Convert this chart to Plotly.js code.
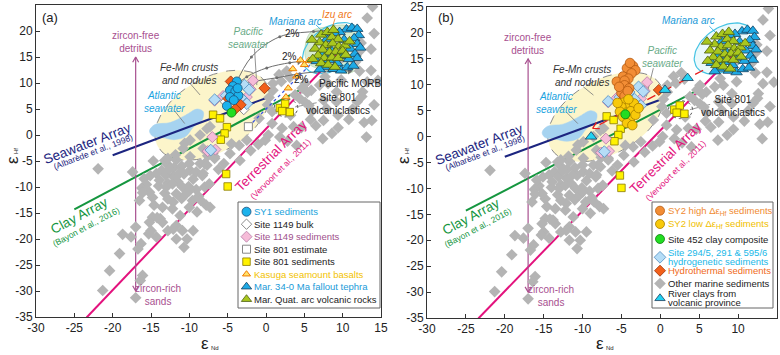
<!DOCTYPE html>
<html><head><meta charset="utf-8">
<script src="https://cdn.plot.ly/plotly-3.0.1.min.js"></script>
<style>html,body{margin:0;padding:0;background:#fff}</style>
</head><body><div id="chart" style="width:780px;height:355px"></div>
<script>
// ================= DATA (eNd, eHf) =================
const xTicks = [-30,-25,-20,-15,-10,-5,0,5,10,15];
const yTicks = [-35,-30,-25,-20,-15,-10,-5,0,5,10,15,20,25];

const otherMarine = [
 [13.9,24.7],[13.2,22.5],[14.1,19.5],[12.4,17.7],[13.7,16.5],[12.2,16.1],[11.7,14.1],[9.4,14.1],[13.7,12.4],[12.2,12.3],
 [14.6,10.5],[13.2,10.2],[9.8,10.6],[8.1,9.9],[7.7,11.2],[7.0,9.6],[12.6,8.3],[9.2,8.3],[5.9,8.6],[5.4,8.2],
 [4.7,9.0],[5.1,9.9],[3.8,7.7],[4.4,7.0],[5.1,6.3],[5.6,5.7],[7.5,6.7],[9.2,6.4],[11.9,6.4],[14.1,5.8],
 [12.5,7.4],[11.3,5.0],[7.9,5.1],[6.0,4.6],[9.4,3.8],[13.8,2.8],[12.8,2.4],[7.5,2.8],[3.2,3.8],[0.8,4.5],
 [0.2,5.8],[0.4,7.2],[0.9,8.6],[0.9,9.9],[2.0,10.3],[1.7,11.6],[2.7,12.3],[3.1,11.1],[-0.9,3.2],[0.8,2.2],
 [2.1,1.3],[3.6,1.6],[4.6,1.4],[0.3,0.0],[1.8,-0.4],[-0.1,-1.0],[-1.0,-1.8],[4.0,-2.0],[7.4,-0.7],[8.6,0.3],
 [9.4,1.4],[13.1,-0.4],[5.8,3.0],[6.5,1.8],[2.8,-1.2],[10.8,3.0],
 [-3.4,-4.9],[-4.7,-3.6],[-2.5,-1.0],[-3.5,-2.0],[-4.5,-1.7],[-6.7,-4.2],[-8.2,-2.6],[-7.7,1.2],[-8.6,0.0],[-9.9,-1.0],
 [-10.8,-2.6],[-9.9,-4.2],[-11.7,-4.8],[-13.2,-4.9],[-14.7,-5.0],[-13.6,-6.8],[-15.1,-7.8],[-9.9,-6.8],[-8.6,-5.5],[-7.3,1.6],
 [-10.6,-1.6],[-11.8,-3.8],[-12.9,-5.6],[-14.3,-7.4],[-21.9,-6.5],[-2.0,-3.0],[-5.5,-5.5],[-6.2,-6.6],[-7.6,-4.0],
 [-12.0,-6.3],[-11.0,-6.0],[-10.7,-7.5],[-12.1,-8.0],[-13.1,-7.7],[-11.5,-9.0],[-9.5,-8.5],[-10.1,-9.9],[-12.8,-9.3],[-14.0,-9.8],
 [-13.2,-11.2],[-11.0,-12.2],[-9.1,-10.5],[-8.8,-11.8],[-12.1,-12.9],[-14.8,-12.0],[-15.6,-9.5],[-16.2,-10.2],[-12.8,-4.5],[-12.6,-6.6],
 [-11.3,-7.4],[-10.0,-5.5],[-9.1,-7.1],[-8.3,-7.8],[-8.0,-5.5],[-13.0,-10.0],[-12.2,-9.4],[-10.9,-10.0],[-11.7,-11.3],[-12.8,-12.3],
 [-10.4,-11.3],[-9.6,-12.6],[-15.2,-11.0],[-16.1,-11.1],[-16.5,-12.6],[-14.6,-13.5],[-13.5,-13.9],[-12.2,-14.2],[-10.0,-13.9],[-8.5,-12.6],
 [-8.0,-10.0],[-7.4,-9.4],[-7.3,-13.9],[-8.2,-7.4],[-7.7,-5.8],[-6.7,-4.5],[-10.0,-10.7],[-17.4,-7.1],[-15.9,-8.4],[-13.9,-8.7],
 [-14.8,-15.8],[-15.2,-16.8],[-14.2,-15.9],[-13.5,-16.8],[-15.0,-18.4],[-14.3,-19.6],[-12.8,-18.4],[-11.7,-17.4],[-10.9,-18.4],[-11.7,-20.0],
 [-10.7,-21.6],[-10.3,-20.0],[-9.5,-18.4],[-12.1,-18.1],[-13.8,-16.1],[-15.3,-19.0],[-18.7,-19.1],[-17.6,-19.6],[-17.0,-17.7],[-16.7,-21.9],
 [-16.3,-20.9],[-19.1,-22.8],[-20.4,-26.1],[-21.3,-29.9],[-16.1,-27.0],[-16.4,-28.0],[-17.0,-31.3],[-7.8,-13.5],[-11.2,-15.5],[-9.0,-14.8]
];
const sy1Sed = [[-3.8,10.3],[-4.3,9.4],[-4.7,8.6],[-4.0,8.4],[-3.6,7.6],[-4.7,7.3],[-4.2,6.7],[-5.1,5.6],[-3.7,9.0]];
const site1149Bulk = [[-5.3,6.4],[-3.0,6.9],[-2.9,4.9]];
const site1149Sed = [[-1.7,10.5],[-6.7,6.6],[-5.6,7.5],[-2.5,7.3],[-3.0,6.2],[-7.0,-0.4],[-7.6,-3.1],[-6.6,-2.8],[-2.0,8.8]];
const site801Est = [[-2.3,1.6]];
const site801Sed = [[-6.9,3.9],[-6.0,3.2],[-5.1,1.5],[-5.4,0.3],[-5.9,-0.9],[-5.2,-7.5],[-5.0,-9.9],[1.8,5.2],[2.5,6.0],[3.1,4.4],[2.1,4.6]];
const kasuga = [[4.5,14.4],[5.6,14.3],[3.5,12.7],[4.0,11.3],[2.9,9.0],[2.6,7.3],[5.0,13.5]];
const marTephra = [[10.5,20.3],[11.2,20.6],[11.9,20.4],[9.6,19.8],[12.1,19.2],[11.5,18.6],[10.2,18.3],[11.9,17.5],[12.3,16.8],[11.0,16.6],
 [11.6,15.6],[11.9,14.8],[7.4,15.5],[8.2,14.4],[9.3,13.8],[7.6,13.1],[8.8,12.7],[9.8,12.4],[10.6,13.0],[6.6,14.2],
 [7.0,12.6],[8.4,16.5],[9.9,15.2],[10.8,14.6],[7.9,18.4],[8.9,19.6],[11.4,13.3]];
const marQuat = [[7.2,19.3],[8.0,19.8],[8.6,18.8],[9.4,18.4],[7.0,17.8],[7.8,17.3],[8.7,17.6],[9.5,17.0],[10.3,17.2],[6.4,16.6],
 [7.4,16.4],[8.3,15.9],[9.1,16.0],[10.0,16.2],[6.8,15.3],[7.6,14.8],[8.6,14.9],[9.4,14.8],[10.4,15.4],[6.1,14.6],
 [7.2,13.8],[8.1,13.5],[9.0,13.1],[8.8,20.2],[10.9,18.0],[6.0,18.3]];
const sy2High = [[-3.5,13.6],[-4.3,13.2],[-3.9,14.2],[-3.2,12.8],[-3.7,12.2],[-4.8,11.6],[-4.1,11.2],[-5.6,10.6],[-4.6,10.8],[-4.6,9.9],
 [-4.0,9.3],[-5.0,8.4],[-4.6,7.8],[-4.2,8.8],[-5.3,9.6]];
const sy2Low = [[-4.6,6.6],[-4.0,5.9],[-5.0,5.7],[-3.4,6.4],[-4.4,4.6],[-3.8,4.9],[-5.2,4.8],[-3.9,3.3],[-4.8,3.8],[-3.2,4.2],
 [-4.3,2.6],[-3.6,2.2],[-5.5,6.5],[-2.8,5.5],[-4.1,7.2]];
const site452 = [[-4.5,4.3]];
const hydrogenetic = [[-2.8,9.6],[-2.2,8.7],[-3.3,7.2],[-5.2,7.6],[-6.7,6.8],[-7.2,-2.9],[-4.0,8.6],[-2.5,6.0]];
const hydrothermal = [[-0.2,9.0],[-4.6,10.3],[-4.9,7.0],[-3.3,5.8],[-4.0,5.0]];
const riverClays = [[-8.9,0.0],[0.6,9.0],[3.5,11.3]];

// reference arrays (end points)
const seawaterArray = [[-20,-3.9],[0,7.1]];
const clayArray = [[-25,-14.3],[5,9.1]];
const terrArray = [[-23.4,-35.1],[10.0,16.7]];
// mixing curves (panel a)
const mixTop = [[-4.1,9.3],[-1.9,15.0],[1.8,18.9],[6.2,19.9],[10.5,20.3]];
const mixMid = [[-4.1,9.3],[-2.5,11.2],[0.1,12.9],[3.1,13.9],[4.3,14.1]];
const mixLow = [[-4.1,9.3],[-1.2,10.4],[1.4,11.0],[4.4,11.8],[8.3,12.3],[10.9,12.3]];
const mixDotted = [[-2.3,1.6],[5.7,13.4]];
const redTrend = [[5.5,12.8],[-8.7,1.6]];
const atlanticSW = [[-15.2,0.8],[-14.8,-0.2],[-13.5,-0.5],[-12,-0.9],[-10.5,-0.3],[-9.5,1.5],[-8.3,3.0],[-8.2,4.5],[-9.0,5.0],[-10.5,3.8],[-12.5,2.4],[-14.5,2.0]];
const morbField = [[5.9,19.9],[8.0,20.8],[10.5,21.1],[12.0,20.2],[12.5,16.3],[11.4,12.2],[8.3,12.3],[5.5,13.8],[5.1,17.0]];

// ================= helpers =================
const PX = 7.7, PY = 5.19; // px per data unit
const A = ['x','y'], B = ['x2','y2'];
const xy = p => ({x:p.map(q=>q[0]), y:p.map(q=>q[1])});
function pts(p, ax, marker){ return Object.assign({type:'scatter',mode:'markers',xaxis:ax[0],yaxis:ax[1],marker,hoverinfo:'skip'}, xy(p)); }
function line(p, ax, color, width, dash, shape){ return Object.assign({type:'scatter',mode:'lines',xaxis:ax[0],yaxis:ax[1],line:{color,width,dash:dash||'solid',shape:shape||'linear'},hoverinfo:'skip'}, xy(p)); }
function ellipse(c, a, b, ang, ax, fill, lc, lw, dash){
  const xs=[], ys=[]; const r=ang*Math.PI/180;
  for(let i=0;i<=72;i++){ const t=i/72*2*Math.PI; const u=a*Math.cos(t), v=b*Math.sin(t);
    xs.push(c[0]+(u*Math.cos(r)-v*Math.sin(r))/PX); ys.push(c[1]+(u*Math.sin(r)+v*Math.cos(r))/PY); }
  return {type:'scatter',mode:'lines',x:xs,y:ys,xaxis:ax[0],yaxis:ax[1],fill:'toself',fillcolor:fill,line:{color:lc,width:lw,dash:dash||'solid'},hoverinfo:'skip'};
}
function poly(p, ax, fill, lc, lw){ const q=p.concat([p[0]]); return Object.assign({type:'scatter',mode:'lines',xaxis:ax[0],yaxis:ax[1],fill:'toself',fillcolor:fill,line:{color:lc,width:lw,shape:'spline'},hoverinfo:'skip'}, xy(q)); }
function vhead(pt, dir, len, ax, color, w){
  const a1=(dir+150)*Math.PI/180, a2=(dir-150)*Math.PI/180;
  return {type:'scatter',mode:'lines',xaxis:ax[0],yaxis:ax[1],hoverinfo:'skip',line:{color,width:w},
    x:[pt[0]+len*Math.cos(a1)/PX, pt[0], pt[0]+len*Math.cos(a2)/PX],
    y:[pt[1]+len*Math.sin(a1)/PY, pt[1], pt[1]+len*Math.sin(a2)/PY]};
}
function fhead(c, ax, color){ // filled arrow head at curve end, oriented along last segment
  const e=c[c.length-1], p=c[c.length-2];
  const ang = Math.atan2((e[1]-p[1])*PY,(e[0]-p[0])*PX)*180/Math.PI;
  return {type:'scatter',mode:'markers',x:[e[0]],y:[e[1]],xaxis:ax[0],yaxis:ax[1],hoverinfo:'skip',
    marker:{symbol:'triangle-up',size:6,color,angle:90-ang,line:{width:0}}};
}

const M = {
 other:{symbol:'diamond',size:9,color:'#b4b4b4',line:{width:0}},
 sy1:{symbol:'circle',size:9,color:'#1cb2ec',line:{color:'#1d4f7a',width:0.8}},
 bulk:{symbol:'diamond',size:8,color:'#ffffff',line:{color:'#8a8a8a',width:1}},
 s1149:{symbol:'diamond',size:8.5,color:'#f6bcd8',line:{color:'#b57aa5',width:0.8}},
 est:{symbol:'square',size:8,color:'#ffffff',line:{color:'#888888',width:1}},
 s801:{symbol:'square',size:7.5,color:'#fff200',line:{color:'#8a7a00',width:0.8}},
 kas:{symbol:'triangle-up',size:7,color:'#ffe36a',line:{color:'#f07a00',width:1}},
 teph:{symbol:'triangle-up',size:10,color:'#1eaae6',line:{color:'#15405e',width:0.8}},
 quat:{symbol:'triangle-up',size:10,color:'#a9c71e',line:{color:'#4d5e10',width:0.8}},
 hi:{symbol:'circle',size:9.5,color:'#f28d35',line:{color:'#b55a10',width:0.8}},
 lo:{symbol:'circle',size:9.5,color:'#f8c90a',line:{color:'#a77e00',width:0.8}},
 s452:{symbol:'circle',size:9,color:'#22dd22',line:{color:'#0f7f0f',width:0.8}},
 hg:{symbol:'diamond',size:9,color:'#b5ddf7',line:{color:'#4f8dc0',width:0.8}},
 ht:{symbol:'diamond',size:8.5,color:'#f2601a',line:{color:'#9a3008',width:0.8}},
 riv:{symbol:'triangle-up',size:10,color:'#22d2f2',line:{color:'#1b3f5e',width:0.8}}
};
const C = {navy:'#1c2580', green:'#15963f', mag:'#e3127d', zirc:'#a8508f', cyan:'#1aa3e0', grey:'#6e6e6e'};

const traces = [];
// background fields
[A,B].forEach(ax=>{
  traces.push(ellipse([-7.0,3.8],63,37,30,ax,'rgba(252,244,196,0.9)','#8a8a8a',1,'dash'));
  traces.push(poly(atlanticSW,ax,'#a6d3f0','#a6d3f0',0.5));
});
traces.push(poly(morbField,A,'#d9ecd2','#b8d8b0',0.8));
traces.push(ellipse([8.6,16.7],33,21,35,A,'rgba(0,0,0,0)','#45c3e3',1.2));
traces.push(ellipse([8.2,17.0],33,21,35,B,'rgba(220,245,250,0.6)','#45c3e3',1.2));
[A,B].forEach(ax=>traces.push(ellipse([2.6,5.2],12,9,0,ax,'rgba(0,0,0,0)','#555',1,'dot')));

// array lines
[A,B].forEach(ax=>{
  traces.push(line(seawaterArray,ax,C.navy,2));
  traces.push(line(clayArray,ax,C.green,2));
  traces.push(line(terrArray,ax,C.mag,2));
  traces.push(line([[-17,-30],[-17,15]],ax,C.zirc,1.2));
  traces.push(vhead([-17,15],90,6,ax,C.zirc,1.2));
  traces.push(vhead([-17,-30],-90,6,ax,C.zirc,1.2));
});
// leader lines
const leadersA = [[[-9.9,9.9],[-8.6,7.7]],[[-11.9,4.6],[-10.6,2.2]],[[-1.5,16.6],[-1.2,9.6]],[[6.6,6.2],[3.8,5.4]]];
const leadersB = [[[-9.9,9.6],[-8.6,8.0]],[[-12.0,4.6],[-10.6,2.5]],[[-0.9,13.2],[-1.8,7.7]],[[6.4,6.2],[3.8,5.2]]];
leadersA.forEach(s=>traces.push(line(s,A,'#777',0.8)));
leadersB.forEach(s=>traces.push(line(s,B,'#777',0.8)));
traces.push(line([[6.5,21.2],[7.6,19.6]],A,C.cyan,0.8));
traces.push(line([[9.0,22.4],[7.5,15.2]],A,'#f07820',0.8));
traces.push(line([[6.3,21.3],[7.3,19.8]],B,C.cyan,0.8));

// grey other sediments
[A,B].forEach(ax=>traces.push(pts(otherMarine,ax,M.other)));

// mixing curves panel a
[mixTop,mixMid,mixLow].forEach(c=>{
  const t=line(c,A,C.grey,1,'solid','spline'); t.mode='lines+markers'; t.marker={size:3,color:C.grey}; traces.push(t);
  traces.push(fhead(c,A,C.grey));
});
traces.push(line(mixDotted,A,'#3a55e0',1.3,'dot'));

// panel a symbols
traces.push(pts(site801Sed,A,M.s801));
traces.push(pts(site801Est,A,M.est));
traces.push(pts(site1149Sed,A,M.s1149));
traces.push(pts(site1149Bulk,A,M.bulk));
traces.push(pts(hydrogenetic,A,M.hg));
traces.push(pts(hydrothermal,A,M.ht));
traces.push(pts(sy1Sed,A,M.sy1));
traces.push(pts(site452,A,M.s452));
traces.push(pts(kasuga,A,M.kas));
traces.push(pts(marTephra,A,M.teph));
traces.push(pts(marQuat,A,M.quat));

// panel b
traces.push(pts(site801Sed,B,M.s801));
traces.push(pts(site1149Sed,B,M.s1149));
traces.push(pts(hydrogenetic,B,M.hg));
traces.push(line(redTrend,B,'#e81e1e',1.3,'dash'));
traces.push(vhead(redTrend[1],208,7,B,'#e81e1e',1.3));
traces.push(pts(hydrothermal,B,M.ht));
traces.push(pts(sy2High,B,M.hi));
traces.push(pts(sy2Low,B,M.lo));
traces.push(pts(site452,B,M.s452));
traces.push(pts(riverClays,B,M.riv));
traces.push(pts(marTephra,B,M.teph));
traces.push(pts(marQuat,B,M.quat));

// ============ manual legends ============
const legA = [
 ['SY1 sediments','#19a3dc',M.sy1],['Site 1149 bulk','#222',M.bulk],['Site 1149 sediments','#a0508c',M.s1149],
 ['Site 801 estimate','#222',M.est],['Site 801 sediments','#222',M.s801],['Kasuga seamount basalts','#f2c200',M.kas],
 ['Mar. 34-0 Ma fallout tephra','#1a9ad8',M.teph],['Mar. Quat. arc volcanic rocks','#222',M.quat]];
const legB = [
 ['SY2 high Δε<sub>Hf</sub> sediments','#f08a30',M.hi],['SY2 low Δε<sub>Hf</sub> sediments','#f0c000',M.lo],
 ['Site 452 clay composite','#222',M.s452],['Site 294/5, 291 & 595/6|hydrogenetic sediments','#20b8e8',M.hg],
 ['Hydrothermal sediments','#f06a1a',M.ht],['Other marine sediments','#222',M.other],['River clays from|volcanic province','#222',M.riv]];
const rowA = [211.7,224.2,236.7,249.2,261.7,274.2,286.7,299.2];
const rowB = [210.7,224.0,239.0,257.3,270.7,283.5,298.3];
const ann = [];
function legend(items, rows, ax, mx, tx){
  items.forEach((it,i)=>{
    traces.push({type:'scatter',mode:'markers',x:[mx],y:[rows[i]],xaxis:ax[0],yaxis:ax[1],marker:Object.assign({},it[2],{size:Math.min(it[2].size,9)}),hoverinfo:'skip'});
    const lines = it[0].split('|');
    lines.forEach((t,j)=>ann.push({xref:ax[0],yref:ax[1],x:tx,y:rows[i]+(j-(lines.length-1)/2)*8.8,text:t,showarrow:false,xanchor:'left',yanchor:'middle',borderpad:0,font:{size:9.5,color:it[1]}}));
  });
}
legend(legA,rowA,['x3','y3'],246.5,253);
legend(legB,rowB,['x4','y4'],660,667);

// ============ text annotations ============
function T(ax,x,y,text,o){ ann.push(Object.assign({xref:ax[0],yref:ax[1],x,y,text,showarrow:false,font:{size:10,color:'#222'}},o||{})); }
const it = c=>({font:{size:10,color:c,style:'italic'}});
[A,B].forEach((ax,k)=>{
  T(ax,-17.0,17.9,'zircon-free<br>detritus',{font:{size:10,color:C.zirc}});
  T(ax,-14.1,-30.7,'zircon-rich<br>sands',{font:{size:10,color:C.zirc}});
  T(ax,-23.3,-1.6,'Seawater Array',{textangle:-21,font:{size:13.5,color:C.navy}});
  T(ax,-22.6,-3.2,'(Albarède et al., 1998)',{textangle:-21,font:{size:8.5,color:C.navy}});
  T(ax,-24.3,-15.5,'Clay Array',{textangle:-28,font:{size:13.5,color:C.green}});
  T(ax,-23.5,-17.7,'(Bayon et al., 2016)',{textangle:-28,font:{size:8.5,color:C.green}});
  T(ax,0.7,-4.0,'Terrestrial Array',{textangle:-45,font:{size:13.5,color:C.mag}});
  T(ax,1.9,-6.6,'(Vervoort et al., 2011)',{textangle:-45,font:{size:8.5,color:C.mag}});
  T(ax,-10.1,11.7,'Fe-Mn crusts<br>and nodules',it('#333'));
  T(ax,-13.3,6.4,'Atlantic<br>seawater',it(C.cyan));
  T(ax,9.4,5.9,'Site 801<br>volcaniclastics');
});
T(A,-2.3,18.7,'Pacific<br>seawater',it('#6aab88'));
T(B,0.3,15.4,'Pacific<br>seawater',it('#6aab88'));
T(A,3.8,21.9,'Mariana arc',it('#1a9ad8'));
T(B,3.6,22.3,'Mariana arc',it('#1a9ad8'));
T(A,9.3,23.2,'Izu arc',it('#f07820'));
T(A,11.0,9.9,'Pacific MORB');
T(A,3.5,19.6,'2%');T(A,3.1,15.1,'2%');T(A,4.6,10.7,'2%');
// panel letters & axis titles
function P(xp,yp,text,o){ ann.push(Object.assign({xref:'paper',yref:'paper',x:xp/780,y:1-yp/355,text,showarrow:false,borderpad:0,xanchor:'center',yanchor:'middle'},o)); }
P(50,17,'(a)',{font:{size:13,color:'#222'}});
P(446,17,'(b)',{font:{size:13,color:'#222'}});
[12,403].forEach(xp=>{
  P(xp,160,'ε',{textangle:-90,font:{size:17,color:'#222'}});
  P(xp+4,151,'Hf',{textangle:-90,font:{size:6,color:'#222'}});
});
[205,600].forEach(xp=>{
  P(xp,343,'ε',{font:{size:17,color:'#222'}});
  P(xp+10,348,'Nd',{font:{size:6,color:'#222'}});
});

// ============ layout ============
const tk = {size:12,color:'#222'};
function axX(dom){return {domain:dom,range:[-30,15],tickvals:xTicks,ticktext:xTicks.map(String),ticks:'inside',ticklen:4,tickcolor:'#333',
  showline:true,linecolor:'#333',linewidth:1,mirror:true,showgrid:false,zeroline:false,tickfont:tk,fixedrange:true};}
function axY(dom,anchor){return {domain:dom,anchor,range:[-35,25],tickvals:yTicks,ticktext:yTicks.map(String),ticks:'inside',ticklen:4,tickcolor:'#333',
  showline:true,linecolor:'#333',linewidth:1,mirror:true,showgrid:false,zeroline:false,tickfont:tk,fixedrange:true};}
const hid = (dom,rng,anchor)=>({domain:dom,range:rng,visible:false,fixedrange:true,anchor});
const layout = {
  width:780,height:355,margin:{l:0,r:0,t:0,b:0},paper_bgcolor:'#fff',plot_bgcolor:'rgba(0,0,0,0)',showlegend:false,
  font:{family:'"Liberation Sans", Arial, sans-serif',color:'#222'},
  xaxis:Object.assign(axX([36/780,381/780]),{anchor:'y'}),
  yaxis:axY([1-317/355,1-5/355],'x'),
  xaxis2:Object.assign(axX([427/780,777/780]),{anchor:'y2'}),
  yaxis2:axY([1-318/355,1-7/355],'x2'),
  xaxis3:hid([238/780,380/780],[238,380],'y3'),
  yaxis3:hid([1-308/355,1-202/355],[308,202],'x3'),
  xaxis4:hid([652/780,773/780],[652,773],'y4'),
  yaxis4:hid([1-308/355,1-202/355],[308,202],'x4'),
  shapes:[
    {type:'rect',xref:'paper',yref:'paper',x0:238/780,x1:380/780,y0:1-308/355,y1:1-202/355,line:{color:'#666',width:1},fillcolor:'#fff',layer:'below'},
    {type:'rect',xref:'paper',yref:'paper',x0:652/780,x1:773/780,y0:1-308/355,y1:1-202/355,line:{color:'#666',width:1},fillcolor:'#fff',layer:'below'}
  ],
  annotations:ann
};
Plotly.newPlot('chart',traces,layout,{staticPlot:true,displayModeBar:false});
</script></body></html>
